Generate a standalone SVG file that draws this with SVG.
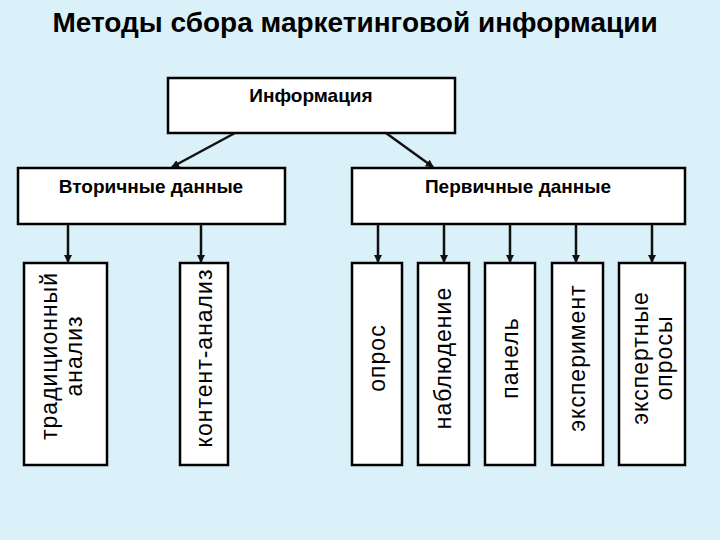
<svg xmlns="http://www.w3.org/2000/svg" width="720" height="540" viewBox="0 0 720 540">
<defs>
<marker id="ah" markerWidth="8" markerHeight="8" refX="7" refY="4" orient="auto" markerUnits="userSpaceOnUse"><path d="M0,0 L8,4 L0,8 Z" fill="#111"/></marker>
<style>
.b{fill:#fff;stroke:#000;stroke-width:2.5}
.t{font-family:"Liberation Sans",Arial,sans-serif;font-weight:bold;fill:#000}
.v{font-family:"Liberation Sans",Arial,sans-serif;font-size:23px;letter-spacing:1px;fill:#000;text-anchor:middle}
.c line{stroke:#111;stroke-width:2.5;marker-end:url(#ah)}
</style>
</defs>
<rect width="720" height="540" fill="#dbf1f9"/>
<text class="t" x="355" y="32" font-size="28" text-anchor="middle">Методы сбора маркетинговой информации</text>
<g id="info"><rect class="b" x="168" y="78" width="287" height="55"/><text class="t" x="311" y="102" font-size="19" text-anchor="middle">Информация</text></g>
<g id="sec"><rect class="b" x="18" y="168" width="267" height="56"/><text class="t" x="151" y="193" font-size="19" text-anchor="middle">Вторичные данные</text></g>
<g id="pri"><rect class="b" x="352" y="168" width="333" height="56"/><text class="t" x="518" y="193" font-size="19" text-anchor="middle">Первичные данные</text></g>
<g id="trad"><rect class="b" x="24" y="263" width="83" height="202"/><text class="v" transform="translate(65,356) rotate(-90)"><tspan x="0" y="-8">традиционный</tspan><tspan x="0" y="17">анализ</tspan></text></g>
<g id="cont"><rect class="b" x="180" y="263" width="48" height="202"/><text class="v" transform="translate(204,358) rotate(-90)" y="8">контент-анализ</text></g>
<g id="opros"><rect class="b" x="352" y="263" width="50" height="202"/><text class="v" transform="translate(377,358) rotate(-90)" y="8">опрос</text></g>
<g id="nabl"><rect class="b" x="418" y="263" width="51" height="202"/><text class="v" transform="translate(443,358) rotate(-90)" y="8">наблюдение</text></g>
<g id="panel"><rect class="b" x="485" y="263" width="50" height="202"/><text class="v" transform="translate(510,358) rotate(-90)" y="8">панель</text></g>
<g id="exp"><rect class="b" x="552" y="263" width="51" height="202"/><text class="v" transform="translate(577,358) rotate(-90)" y="8">эксперимент</text></g>
<g id="expert"><rect class="b" x="619" y="263" width="66" height="202"/><text class="v" transform="translate(652,358) rotate(-90)"><tspan x="0" y="-4">экспертные</tspan><tspan x="0" y="20">опросы</tspan></text></g>
<g class="c">
<line x1="235" y1="133" x2="172" y2="167"/>
<line x1="386" y1="133" x2="433" y2="167"/>
<line x1="68" y1="224" x2="68" y2="262"/>
<line x1="201" y1="224" x2="201" y2="262"/>
<line x1="378" y1="224" x2="378" y2="262"/>
<line x1="444" y1="224" x2="444" y2="262"/>
<line x1="510" y1="224" x2="510" y2="262"/>
<line x1="576" y1="224" x2="576" y2="262"/>
<line x1="652" y1="224" x2="652" y2="262"/>
</g>
</svg>
